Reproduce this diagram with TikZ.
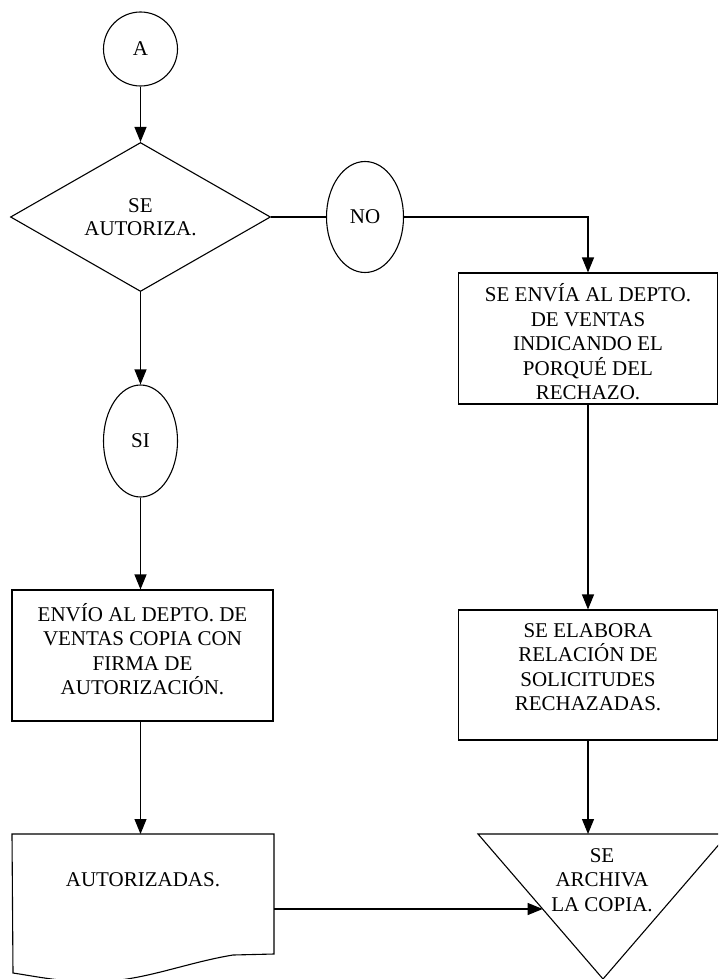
\documentclass[tikz,border=0pt]{standalone}
\usepackage{fontspec}
\setmainfont{Liberation Serif}
\usetikzlibrary{shapes.geometric,arrows.meta,calc}
\begin{document}
\begin{tikzpicture}[x=1pt,y=-1pt,
  every node/.style={font=\fontsize{21}{24.5}\selectfont},
  ln/.style={line width=1.1pt,draw=black},
  arr/.style={ln,-{Triangle[length=15pt,width=12pt]}},
  boxnode/.style={ln,rectangle,minimum width=259pt,minimum height=131pt,inner sep=0pt},
  txt/.style={align=center,inner sep=0pt},
  oval/.style={ln,ellipse,inner sep=0pt}]
\useasboundingbox (0,0) rectangle (718,979);
\clip (0,0) rectangle (718,979);
% left column
\node[ln,circle,minimum size=74pt,inner sep=0pt] (a) at (140.5,49) {A};
\node[ln,diamond,minimum width=260pt,minimum height=149pt,inner sep=0pt,align=center] (d) at (140.5,217) {SE\\[-2pt]AUTORIZA.};
\node[oval,minimum width=74pt,minimum height=112pt] (si) at (140.5,441) {SI};
\node[boxnode,minimum width=261pt] (b3) at (142.5,655.5) {};
\node[txt] (t3) at (142.5,649) {ENVÍO AL DEPTO. DE\\VENTAS COPIA CON\\FIRMA DE\\AUTORIZACIÓN.};
% document shape
\coordinate (dtl) at (12,834);
\coordinate (dtr) at (274,834);
\coordinate (dtop) at (140.5,834);
\coordinate (dR) at (274,909);
\draw[ln] (dtl) -- (dtr) -- (274,954) -- (233,955)
  .. controls (190,962) and (150,978) .. (110,981)
  .. controls (70,984) and (40,977) .. (13,973) -- cycle;
\node[txt] (t4) at (143,880) {AUTORIZADAS.};
% right column
\node[oval,minimum width=77pt,minimum height=111pt] (no) at (365,217) {NO};
\node[boxnode] (b1) at (588,338.5) {};
\node[txt] (t1) at (588,342) {SE ENVÍA AL DEPTO.\\DE VENTAS\\INDICANDO EL\\PORQUÉ DEL\\RECHAZO.};
\node[boxnode,minimum height=130pt] (b2) at (588,675) {};
\node[txt] (t2) at (588,667) {SE ELABORA\\RELACIÓN DE\\SOLICITUDES\\RECHAZADAS.};
% triangle (archive)
\coordinate (tl) at (478,834);
\coordinate (tr) at (728,834);
\coordinate (tb) at (603,979);
\coordinate (ttop) at (588,834);
\coordinate (tin) at ($(tl)!{(909-834)/(979-834)}!(tb)$);
\draw[ln] (tl) -- (tr) -- (tb) -- cycle;
\node[txt] (t5) at (602,880) {SE\\ARCHIVA\\LA COPIA.};
% connectors
\draw[arr] (a.south) -- (d.north);
\draw[ln] (d.east) -- (no.west);
\draw[arr] (no.east) -| (b1.north);
\draw[arr] (d.south) -- (si.north);
\draw[arr] (si.south) -- (si.south |- b3.north);
\draw[arr] (si.south |- b3.south) -- (dtop);
\draw[arr] (b1.south) -- (b2.north);
\draw[arr] (b2.south) -- (ttop);
\draw[arr] (dR) -- (dR -| tin);
\end{tikzpicture}
\end{document}
